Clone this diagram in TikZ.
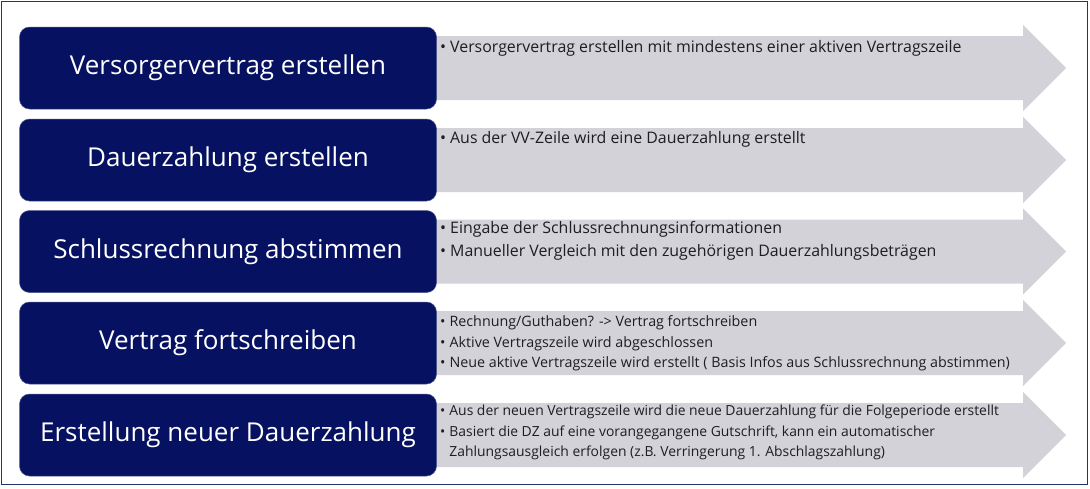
\documentclass[tikz,border=0pt]{standalone}
\usepackage{fontspec}
\setmainfont{Open Sans}
\newfontfamily\titlefont{Open Sans}
\newfontfamily\bodyfont{Open Sans}
\newfontfamily\condfont{Open Sans}
\definecolor{navybox}{RGB}{6,18,97}
\definecolor{arrowgray}{RGB}{210,210,216}
\definecolor{framecol}{RGB}{31,56,100}
\definecolor{txtcol}{RGB}{30,30,34}
\tikzset{
  stepbox/.style={fill=navybox, draw=navybox!70!white, line width=0.5pt, rounded corners=10pt},
  titletxt/.style={text=white, font=\titlefont\fontsize{26}{30}\selectfont, inner sep=0pt},
  bodytxt/.style={text=txtcol, font=\bodyfont\fontsize{15.9}{23}\selectfont, align=left, anchor=base west, inner sep=0pt},
  condtxt/.style={text=txtcol, font=\condfont\fontsize{14.3}{20.5}\selectfont, align=left, anchor=base west, inner sep=0pt},
  condtxtb/.style={condtxt, font=\condfont\fontsize{13.9}{20.5}\selectfont},
}
\newcommand{\bul}{\textbullet\hspace{4pt}}
\newcommand{\bulsp}{\phantom{\textbullet}\hspace{4pt}}
\begin{document}
\begin{tikzpicture}[x=1pt,y=-1pt]
\useasboundingbox (0,0) rectangle (1090,488);
\draw[framecol, line width=1.3pt] (1.5,1.5) rectangle (1087.5,484.5);
% arrows and boxes
\foreach \T/\n in {27/1,119/2,210.5/3,302/4,394/5}{
  \fill[arrowgray] (425,\T+9) -- (1023,\T+9) -- (1023,\T-2) -- (1066,\T+41) -- (1023,\T+84) -- (1023,\T+73) -- (425,\T+73) -- cycle;
  \draw[stepbox] (19.5,\T) rectangle (436.5,\T+82);
  \coordinate (c\n) at (228,\T+41);
}
\node[titletxt] (t1) at (c1) {Versorgervertrag erstellen};
\node[titletxt] (t2) at (c2) {Dauerzahlung erstellen};
\node[titletxt] (t3) at (c3) {Schlussrechnung abstimmen};
\node[titletxt] (t4) at (c4) {Vertrag fortschreiben};
\node[titletxt] (t5) at (c5) {Erstellung neuer Dauerzahlung};
\node[bodytxt] (b1) at (440,52.5) {\bul Versorgervertrag erstellen mit mindestens einer aktiven Vertragszeile};
\node[bodytxt] (b2) at (440,143) {\bul Aus der VV-Zeile wird eine Dauerzahlung erstellt};
\node[bodytxt] (b3) at (440,256) {\bul Eingabe der Schlussrechnungsinformationen\\ \bul Manueller Vergleich mit den zugehörigen Dauerzahlungsbeträgen};
\node[condtxt] (b4) at (440,367.5) {\bul Rechnung/Guthaben? -> Vertrag fortschreiben\\ \bul Aktive Vertragszeile wird abgeschlossen\\ \bul Neue aktive Vertragszeile wird erstellt ( Basis Infos aus Schlussrechnung abstimmen)};
\node[condtxtb] (b5) at (440,456.5) {\bul Aus der neuen Vertragszeile wird die neue Dauerzahlung für die Folgeperiode erstellt\\ \bul Basiert die DZ auf eine vorangegangene Gutschrift, kann ein automatischer\\ \bulsp Zahlungsausgleich erfolgen (z.B. Verringerung 1. Abschlagszahlung)};
\end{tikzpicture}
\end{document}
